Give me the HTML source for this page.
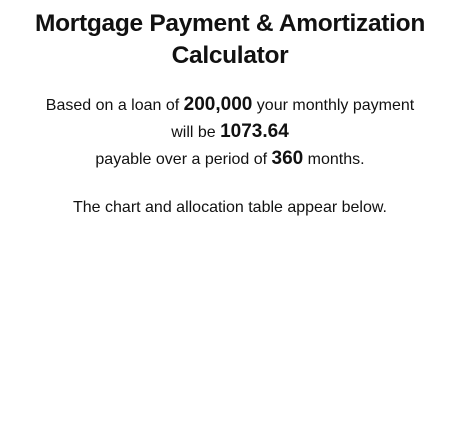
<!DOCTYPE html>
<html><head><meta charset="utf-8"><style>
body{margin:0;width:472px;height:436px;background:#fff;font-family:"Liberation Sans",sans-serif;color:#111;}
.wrap{width:440px;margin:0 0 0 10px;text-align:center;}
h1{font-size:24.5px;font-weight:bold;margin:8px 0 0;line-height:32px;letter-spacing:-0.3px;}
p{font-size:16px;margin:0 auto;line-height:26px;}
b{font-size:19px;}
.p1{margin-top:20px;width:395px;}
.p2{margin-top:22px;}
</style></head><body>
<div class="wrap">
<h1>Mortgage Payment &amp; Amortization Calculator</h1>
<p class="p1">Based on a loan of <b>200,000</b> your monthly payment will be <b>1073.64</b><br>payable over a period of <b>360</b> months.</p>
<p class="p2">The chart and allocation table appear below.</p>
</div>
</body></html>
